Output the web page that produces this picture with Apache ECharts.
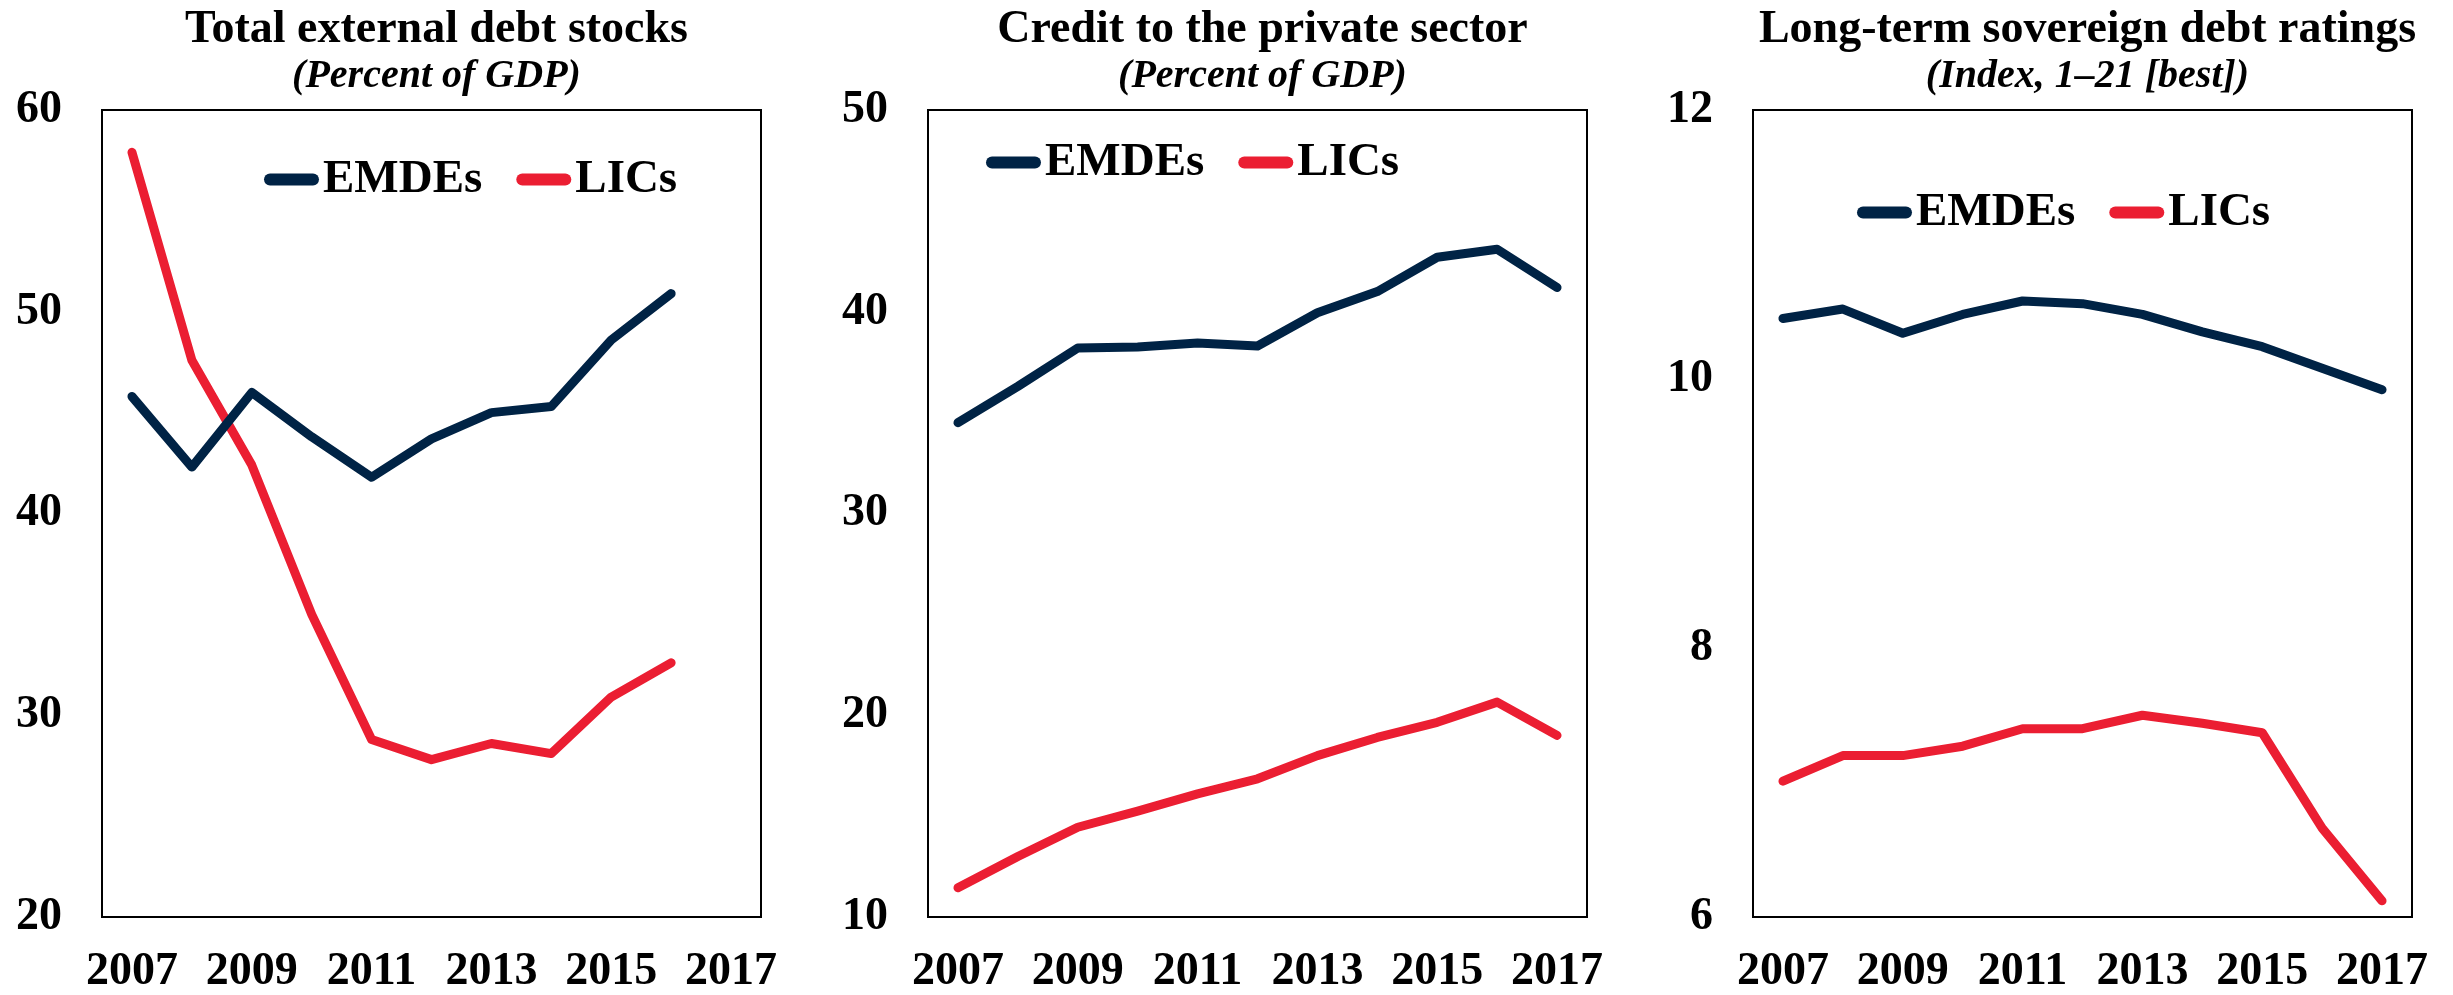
<!DOCTYPE html>
<html>
<head>
<meta charset="utf-8">
<script src="https://cdn.jsdelivr.net/npm/echarts@6/dist/echarts.min.js"></script>
<style>
html,body{margin:0;padding:0;background:#fff;}
#c{width:2453px;height:995px;}
</style>
</head>
<body>
<div id="c"></div>
<script>
// ---- data ----
const years = ['2007','2008','2009','2010','2011','2012','2013','2014','2015','2016','2017'];
const seriesNames = ['EMDEs', 'LICs'];

const debtEMDE = [45.8, 42.3, 46.0, 43.8, 41.8, 43.7, 45.0, 45.3, 48.6, 50.9, null];
const debtLIC  = [57.9, 47.6, 42.4, 35.0, 28.8, 27.8, 28.6, 28.1, 30.9, 32.6, null];

const creditEMDE = [34.5, 36.3, 38.2, 38.25, 38.45, 38.3, 39.95, 41.0, 42.7, 43.1, 41.2];
const creditLIC  = [11.45, 13.0, 14.45, 15.25, 16.1, 16.85, 18.0, 18.9, 19.65, 20.65, 19.0];

const ratingEMDE = [10.45, 10.52, 10.34, 10.48, 10.58, 10.56, 10.48, 10.35, 10.24, 10.08, 9.92];
const ratingLIC  = [7.01, 7.20, 7.20, 7.27, 7.40, 7.40, 7.50, 7.44, 7.37, 6.66, 6.12];

const titles = ['Total external debt stocks', 'Credit to the private sector', 'Long-term sovereign debt ratings'];
const subtitles = ['(Percent of GDP)', '(Percent of GDP)', '(Index, 1\u201321 [best])'];

const yMin = [20, 10, 6];
const yMax = [60, 50, 12];
const yStep = [10, 10, 2];

// ---- layout / style ----
const FONT = "'Liberation Serif', 'Times New Roman', serif";
const NAVY = '#002345';
const RED = '#EB1E32';
const gridLeft = [102, 928, 1753];
const gridWidth = 659;
const gridTop = 110;
const gridHeight = 808;
const legendPos = [[259, 151], [981, 134], [1852, 184]];

const panelData = [[debtEMDE, debtLIC], [creditEMDE, creditLIC], [ratingEMDE, ratingLIC]];

const grids = [], xAxes = [], yAxes = [], series = [], titleArr = [], legends = [];
const lineIcon = 'path://M6,0 L49,0 A6,6 0 0 1 49,12 L6,12 A6,6 0 0 1 6,0 Z';

for (let i = 0; i < 3; i++) {
  grids.push({
    left: gridLeft[i], top: gridTop, width: gridWidth, height: gridHeight,
    show: true, borderColor: '#000', borderWidth: 2, backgroundColor: 'transparent'
  });
  xAxes.push({
    type: 'category', gridIndex: i, data: years, boundaryGap: true,
    axisLine: { show: false }, axisTick: { show: false },
    axisLabel: { interval: 1, margin: 32, color: '#000', fontFamily: FONT, fontWeight: 'bold', fontSize: 46 }
  });
  yAxes.push({
    type: 'value', gridIndex: i, min: yMin[i], max: yMax[i], interval: yStep[i],
    axisLine: { show: false }, axisTick: { show: false }, splitLine: { show: false },
    axisLabel: { margin: 40, color: '#000', fontFamily: FONT, fontWeight: 'bold', fontSize: 46 }
  });
  const colors = [NAVY, RED];
  for (let s = 0; s < 2; s++) {
    series.push({
      type: 'line', name: seriesNames[s], xAxisIndex: i, yAxisIndex: i,
      data: panelData[i][s], symbol: 'none', smooth: false, connectNulls: false,
      color: colors[s],
      lineStyle: { color: colors[s], width: 9, cap: 'round', join: 'round' },
      z: s === 0 ? 3 : 2
    });
  }
  titleArr.push({
    text: titles[i], subtext: subtitles[i],
    left: gridLeft[i] + gridWidth / 2, top: 2, textAlign: 'center', itemGap: 4,
    textStyle: { fontFamily: FONT, fontWeight: 'bold', fontSize: 46, color: '#000' },
    subtextStyle: { fontFamily: FONT, fontWeight: 'bold', fontStyle: 'italic', fontSize: 40, color: '#000' }
  });
  legends.push({
    data: seriesNames, left: legendPos[i][0], top: legendPos[i][1],
    orient: 'horizontal', itemGap: 34, itemWidth: 55, itemHeight: 12,
    icon: lineIcon,
    textStyle: { fontFamily: FONT, fontWeight: 'bold', fontSize: 47, color: '#000', padding: [0,0,0,-1] },
    selectedMode: false
  });
}

const chart = echarts.init(document.getElementById('c'), null, { renderer: 'canvas' });
chart.setOption({
  animation: false,
  backgroundColor: '#fff',
  title: titleArr,
  legend: legends,
  grid: grids,
  xAxis: xAxes,
  yAxis: yAxes,
  series: series
});
</script>
</body>
</html>
